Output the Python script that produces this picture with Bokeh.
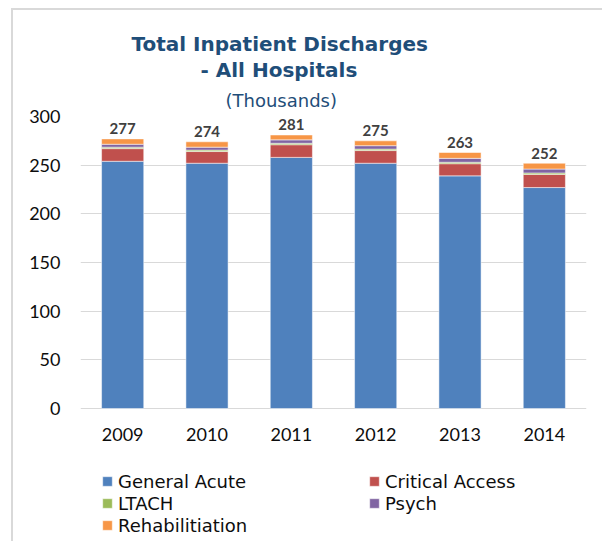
from bokeh.plotting import figure
from bokeh.models import ColumnDataSource, Legend, LegendItem, Title, FixedTicker
from bokeh.core.properties import value
from bokeh.embed import file_html
from bokeh.resources import INLINE

years = ["2009", "2010", "2011", "2012", "2013", "2014"]
general_acute = [254, 252, 258, 252, 239, 227]
critical_access = [13, 12, 13, 13, 12.5, 13.5]
ltach = [1.5, 1.5, 1.5, 1.5, 1.5, 1.5]
psych = [3, 3, 3.5, 3.5, 4, 4]
rehab = [5.5, 5.5, 5, 5, 6, 6]
totals = [277, 274, 281, 275, 263, 252]
series_names = ["General Acute", "Critical Access", "LTACH", "Psych", "Rehabilitiation"]
series_keys = ["ga", "ca", "lt", "ps", "rh"]
colors = ["#4F81BD", "#C0504D", "#9BBB59", "#8064A2", "#F79646"]
y_ticks = [0, 50, 100, 150, 200, 250, 300]

source = ColumnDataSource(dict(year=years, ga=general_acute, ca=critical_access,
                               lt=ltach, ps=psych, rh=rehab, total=totals,
                               label=[str(t) for t in totals]))

# frame extends below the zero line to hold the category labels and the legend
p = figure(x_range=years, y_range=(-138.7, 300), frame_width=506, frame_height=427,
           output_backend="svg", toolbar_location=None,
           min_border_left=67, min_border_right=18, min_border_top=106, min_border_bottom=0)
p.styles = {"margin-left": "13px", "margin-top": "10px",
            "box-shadow": "-2px -2px 0px 0px #D9D9D9"}
p.outline_line_color = None
p.background_fill_color = "white"
p.border_fill_color = "white"

renderers = p.vbar_stack(series_keys, x="year", width=0.5, color=colors, source=source,
                         line_color="white", line_alpha=0.5, line_width=1)

p.text(x="year", y="total", text="label", source=source, text_align="center",
       text_baseline="alphabetic", y_offset=-10, text_font=value("Lato"),
       text_font_style="bold", text_font_size="15px", text_color="#404040")

# titles (added closest-first)
p.add_layout(Title(text="(Thousands)", align="left", text_font="DejaVu Sans",
                   text_font_size="18px", text_font_style="normal",
                   text_color="#1F4E79", standoff=11, offset=145), "above")
p.add_layout(Title(text="- All Hospitals", align="left", text_font="DejaVu Sans",
                   text_font_size="20px", text_font_style="bold",
                   text_color="#1F4E79", standoff=1, offset=120), "above")
p.add_layout(Title(text="Total Inpatient Discharges", align="left", text_font="DejaVu Sans",
                   text_font_size="20px", text_font_style="bold",
                   text_color="#1F4E79", standoff=0, offset=51), "above")

p.xgrid.grid_line_color = None
p.ygrid.grid_line_color = "#D9D9D9"
p.ygrid.grid_line_width = 1
p.yaxis.ticker = FixedTicker(ticks=y_ticks)
p.xaxis.fixed_location = 0

for ax in (p.xaxis, p.yaxis):
    ax.axis_line_color = None
    ax.major_tick_line_color = None
    ax.minor_tick_line_color = None
    ax.major_tick_out = 0
    ax.major_tick_in = 0
    ax.minor_tick_out = 0
    ax.major_label_text_font = "Lato"
    ax.major_label_text_font_size = "18px"
    ax.major_label_text_color = "#0D0D0D"
p.yaxis.major_label_standoff = 20
p.xaxis.major_label_standoff = 20

order = [0, 2, 4, 1, 3]
items = [LegendItem(label=series_names[i], renderers=[renderers[i]]) for i in order]
legend = Legend(items=items, orientation="vertical", nrows=3, location=(21, 7),
                label_text_font="DejaVu Sans", label_text_font_size="18px",
                label_text_color="#0D0D0D", glyph_width=12, glyph_height=12,
                label_width=250, label_height=22, spacing=0, padding=0, margin=0,
                label_standoff=5, border_line_color=None, background_fill_alpha=0)
p.add_layout(legend, "center")

open("out.html", "w").write(file_html(p, INLINE))
